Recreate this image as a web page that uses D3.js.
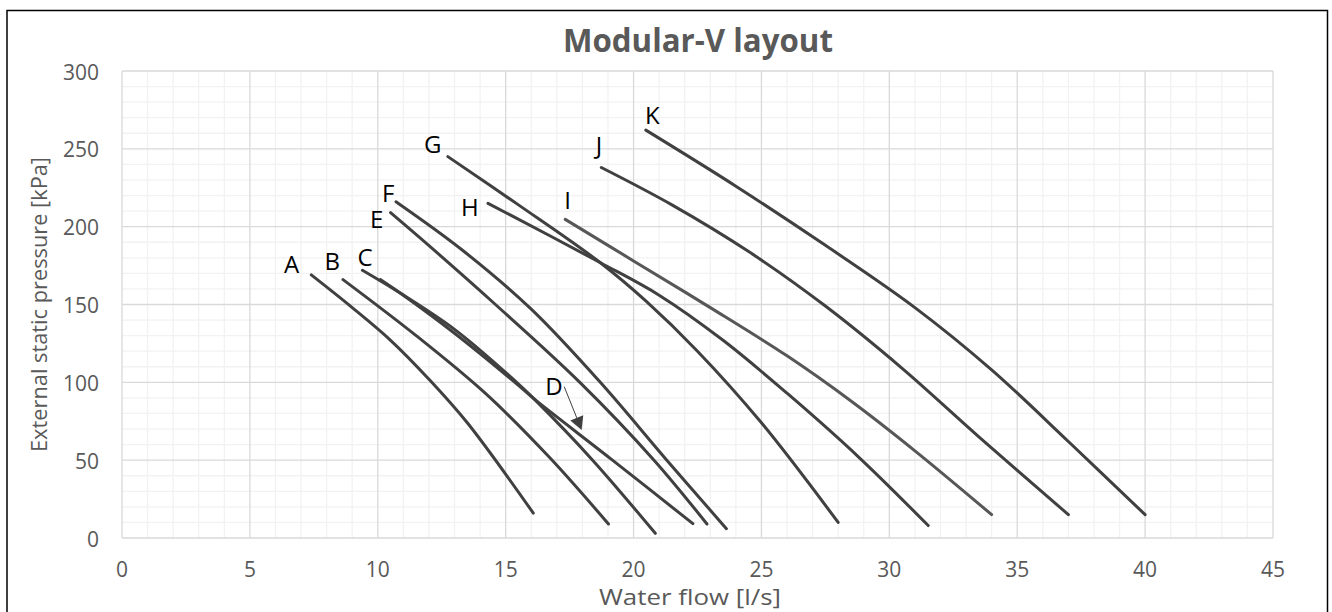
<!DOCTYPE html>
<html><head><meta charset="utf-8">
<script src="https://cdn.jsdelivr.net/npm/d3@7"></script>
<style>
html,body{margin:0;padding:0;background:#fff;}
svg{display:block;}
</style></head>
<body>
<svg id="chart" width="1332" height="612"></svg>
<script>
// ---- data ----
const chartTitle = "Modular-V layout";
const xTitle = "Water flow [l/s]";
const yTitle = "External static pressure [kPa]";
const xTicks = [0, 5, 10, 15, 20, 25, 30, 35, 40, 45];
const yTicks = [0, 50, 100, 150, 200, 250, 300];

const curveA = [[7.4,169],[9,148],[10.5,127],[12,102],[13.5,74],[16.08,16]];
const curveB = [[8.64,166],[11.5,130],[14.2,93],[16.7,52],[19.02,9]];
const curveC = [[9.4,172],[10.86,157.5],[13,134],[15.43,100],[16.1,89.5],[18.4,50],[20.85,3]];
const curveD = [[10.1,166],[10.86,157.5],[13,131.5],[15.43,99],[16.1,89.5],[19.1,51],[22.32,9.2]];
const curveE = [[10.5,209],[12.17,185.4],[14.6,150],[17.9,100],[20.8,50],[22.87,9]];
const curveF = [[10.71,216],[13.3,185],[16,147],[18.7,100],[21.3,50],[23.63,6]];
const curveG = [[12.74,245],[15.5,214],[18.69,177],[20.5,152],[22.5,120],[25,74],[28,10]];
const curveH = [[14.31,215],[18.69,177],[21,156],[23.5,127],[26,93],[28.8,52],[31.52,8]];
const curveI = [[17.33,204.7],[20,178],[23,148],[26,117],[28.5,88],[31,56],[34,15]];
const curveJ = [[18.74,238],[21.5,214],[24.5,184],[27.5,149],[30.5,109],[33.5,65],[37,15]];
const curveK = [[20.48,262],[24,226],[27.5,188],[31,148],[34,108],[37,62],[40,15]];

const curveNames = ["A","B","C","D","E","F","G","H","I","J","K"];
const curves = [curveA,curveB,curveC,curveD,curveE,curveF,curveG,curveH,curveI,curveJ,curveK];
// label anchor points (data coordinates)
const labelX = [6.63, 8.22, 9.5, 16.89, 9.96, 10.41, 12.15, 13.6, 17.42, 18.65, 20.73];
const labelY = [176, 177.5, 180.7, 97.2, 204.7, 221.4, 253, 212.2, 216.7, 252.5, 271.8];
// D pointer arrow (data coordinates): from, to
const arrowD = [[17.29, 97.2], [17.97, 69.4]];

(function(){
// ---- layout ----
const svg = d3.select("#chart");
const pL = 122, pR = 1273, pT = 71, pB = 538;
const x = d3.scaleLinear().domain([0,45]).range([pL,pR]);
const y = d3.scaleLinear().domain([0,300]).range([pB,pT]);
const FONT = "'Open Sans', 'Noto Sans', sans-serif";

svg.append("rect").attr("x",0).attr("y",0).attr("width",1332).attr("height",612).attr("fill","#fff");
svg.append("rect").attr("x",7).attr("y",10.5).attr("width",1320.5).attr("height",610)
  .attr("fill","none").attr("stroke","#000").attr("stroke-width",1.5);

function fit(sel, target){
  const w = sel.node().getComputedTextLength();
  const fs = parseFloat(sel.attr("font-size"));
  if (w > 0) sel.attr("font-size", (fs*target/w).toFixed(2));
}

// gridlines
const g = svg.append("g");
const minorX = d3.range(0,46,1).filter(v=>v%5!==0);
const minorY = d3.range(0,301,10).filter(v=>v%50!==0);
g.selectAll(".mx").data(minorX).join("line")
  .attr("x1",d=>x(d)).attr("x2",d=>x(d)).attr("y1",y(0)).attr("y2",y(300))
  .attr("stroke","#f2f2f2").attr("stroke-width",1.3);
g.selectAll(".my").data(minorY).join("line")
  .attr("y1",d=>y(d)).attr("y2",d=>y(d)).attr("x1",x(0)).attr("x2",x(45))
  .attr("stroke","#f2f2f2").attr("stroke-width",1.3);
g.selectAll(".Mx").data(xTicks).join("line")
  .attr("x1",d=>x(d)).attr("x2",d=>x(d)).attr("y1",y(0)).attr("y2",y(300))
  .attr("stroke","#d9d9d9").attr("stroke-width",1.3);
g.selectAll(".My").data(yTicks).join("line")
  .attr("y1",d=>y(d)).attr("y2",d=>y(d)).attr("x1",x(0)).attr("x2",x(45))
  .attr("stroke","#d9d9d9").attr("stroke-width",1.3);

// tick labels
svg.append("g").selectAll("text").data(xTicks).join("text")
  .attr("x",d=>x(d)).attr("y",pB+39).attr("text-anchor","middle")
  .attr("font-family",FONT).attr("font-size",21).attr("fill","#595959").text(d=>d);
svg.append("g").selectAll("text").data(yTicks).join("text")
  .attr("x",pL-23).attr("y",d=>y(d)+8.5).attr("text-anchor","end")
  .attr("font-family",FONT).attr("font-size",21).attr("fill","#595959").text(d=>d);

// titles
const t = svg.append("text").attr("x",698).attr("y",52).attr("text-anchor","middle")
  .attr("font-family",FONT).attr("font-weight","bold").attr("font-size",32).attr("fill","#595959").text(chartTitle);
fit(t,270);
svg.append("text").attr("x",690).attr("y",605).attr("text-anchor","middle")
  .attr("font-family",FONT).attr("font-size",22).attr("fill","#595959")
  .attr("textLength",182).attr("lengthAdjust","spacingAndGlyphs").text(xTitle);
svg.append("text").attr("transform",`translate(47,${(pT+pB)/2}) rotate(-90)`)
  .attr("text-anchor","middle")
  .attr("font-family",FONT).attr("font-size",22.5).attr("fill","#595959")
  .attr("textLength",295).attr("lengthAdjust","spacingAndGlyphs").text(yTitle);

// curves
const line = d3.line().x(d=>x(d[0])).y(d=>y(d[1])).curve(d3.curveCatmullRom.alpha(0.5));
svg.append("g").selectAll("path").data(curves).join("path")
  .attr("d",line).attr("fill","none")
  .attr("stroke",(d,i)=>curveNames[i]==="I" ? "#575757" : "#404040")
  .attr("stroke-width",3).attr("stroke-linecap","round").attr("stroke-linejoin","round");

// labels
svg.append("g").selectAll("text").data(curveNames).join("text")
  .attr("x",(d,i)=>x(labelX[i])).attr("y",(d,i)=>y(labelY[i])+8.8)
  .attr("text-anchor","middle").attr("font-family",FONT).attr("font-size",24)
  .attr("fill","#000").text(d=>d);

// D arrow
const ax0 = x(arrowD[0][0]), ay0 = y(arrowD[0][1]);
const ax1 = x(arrowD[1][0]), ay1 = y(arrowD[1][1]);
const ang = Math.atan2(ay1-ay0, ax1-ax0);
const hl = 13, hw = 7;
const bx = ax1 - hl*Math.cos(ang), by = ay1 - hl*Math.sin(ang);
svg.append("line").attr("x1",ax0).attr("y1",ay0).attr("x2",bx).attr("y2",by)
  .attr("stroke","#404040").attr("stroke-width",1);
svg.append("path").attr("d",
  `M${ax1},${ay1}L${bx + hw*Math.sin(ang)},${by - hw*Math.cos(ang)}L${bx - hw*Math.sin(ang)},${by + hw*Math.cos(ang)}Z`)
  .attr("fill","#404040");
})();
</script>
</body></html>
